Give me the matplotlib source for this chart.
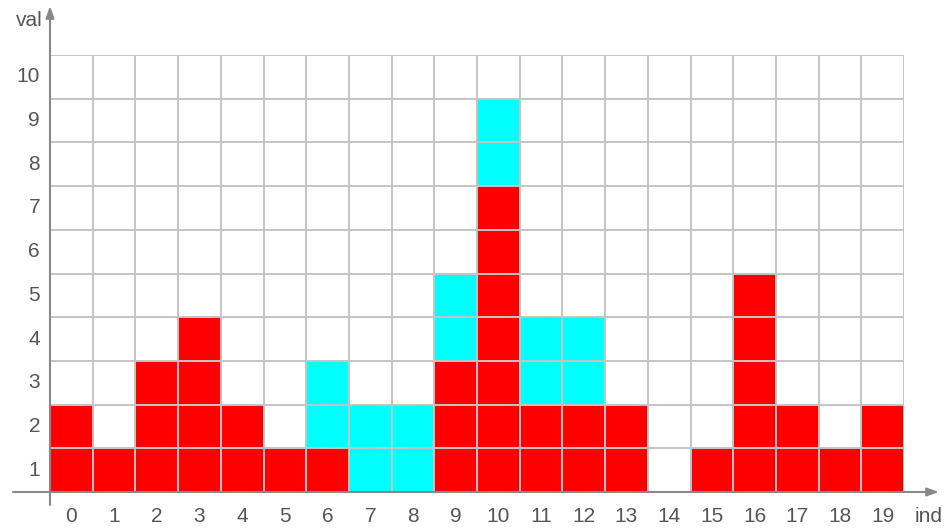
import matplotlib
matplotlib.use("Agg")
import matplotlib.pyplot as plt
import numpy as np

categories = list(range(20))
red_vals = [2, 1, 3, 4, 2, 1, 1, 0, 0, 3, 7, 2, 2, 2, 0, 1, 5, 2, 1, 2]
cyan_vals = [0, 0, 0, 0, 0, 0, 2, 2, 2, 2, 2, 2, 2, 0, 0, 0, 0, 0, 0, 0]
y_ticks = list(range(1, 11))

plt.rcParams['font.family'] = ['Liberation Sans', 'DejaVu Sans']
W, H = 947, 532
fig = plt.figure(figsize=(W / 100, H / 100), dpi=100)
left, bottom, right, top = 50, 40, 904, 477  # pixels from bottom-left
ax = fig.add_axes([left / W, bottom / H, (right - left) / W, (top - bottom) / H])
ncol = len(categories)
nrow = len(y_ticks)
ax.set_xlim(0, ncol)
ax.set_ylim(0, nrow)
ax.axis('off')

cw = (right - left) / ncol
rh = (top - bottom) / nrow

def dx(px):
    return (px - left) / cw

def dy(py_from_top):
    return ((H - py_from_top) - bottom) / rh

x = np.array(categories)
ax.bar(x, red_vals, width=1, align='edge', color='#ff0000', linewidth=0, zorder=2)
ax.bar(x, cyan_vals, bottom=red_vals, width=1, align='edge', color='#00ffff', linewidth=0, zorder=2)

grid_c = '#c4c4c4'
for i in range(ncol + 1):
    ax.plot([i, i], [0, nrow], color=grid_c, lw=1.4, zorder=3, solid_capstyle='butt')
for j in range(nrow + 1):
    ax.plot([0, ncol], [j, j], color=grid_c, lw=1.4, zorder=3, solid_capstyle='butt')

axis_c = '#888888'
ax.annotate('', xy=(dx(939), 0), xytext=(dx(13), 0),
            arrowprops=dict(arrowstyle='-|>,head_length=0.7,head_width=0.25', color=axis_c, lw=1.5,
                            shrinkA=0, shrinkB=0), annotation_clip=False, zorder=4)
ax.annotate('', xy=(0, dy(6)), xytext=(0, dy(505)),
            arrowprops=dict(arrowstyle='-|>,head_length=0.7,head_width=0.25', color=axis_c, lw=1.5,
                            shrinkA=0, shrinkB=0), annotation_clip=False, zorder=4)

txt_c = '#555555'
fs = 15
for c in categories:
    ax.text(c + 0.5, dy(516), str(c), ha='center', va='center', fontsize=fs, color=txt_c, clip_on=False)
for v in y_ticks:
    ax.text(dx(40), v - 0.5, str(v), ha='right', va='center', fontsize=fs, color=txt_c, clip_on=False)
ax.text(dx(929), dy(516), 'ind', ha='center', va='center', fontsize=fs, color=txt_c, clip_on=False)
ax.text(dx(29), dy(21), 'val', ha='center', va='center', fontsize=fs, color=txt_c, clip_on=False)

fig.savefig('out.png', dpi=100)
